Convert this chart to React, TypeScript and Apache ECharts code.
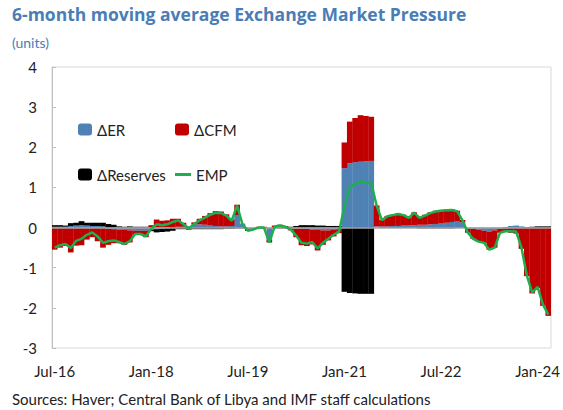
import React, { useEffect, useRef } from "react";
import * as echarts from "echarts";

const monthNames = ["Jan", "Feb", "Mar", "Apr", "May", "Jun", "Jul", "Aug", "Sep", "Oct", "Nov", "Dec"];
const startYear = 2016;
const startMonth = 6; // Jul
const monthCount = 93; // Jul-16 .. Mar-24
const categories: string[] = [];
for (let k = 0; k < monthCount; k++) {
  const m = (startMonth + k) % 12;
  const y = startYear + Math.floor((startMonth + k) / 12);
  categories.push(`${monthNames[m]}-${String(y).slice(2)}`);
}

const erValues = [
  0.02, 0.02, 0.02, 0.04, 0.05, 0.06, 0.05, 0.04, 0.04, 0.03, -0.03, -0.04, -0.05, -0.06, -0.07, -0.08, -0.08,
  -0.08, -0.06, -0.04, -0.03, -0.02, 0.0, 0.02, 0.02, 0.03, 0.08, 0.08, 0.07, 0.05, 0.04, 0.03, 0.03, 0.04, 0.3, 0.1,
  -0.03, -0.02, 0.0, 0.0, -0.3, 0.0, 0.02, 0.0, -0.02, -0.02, -0.02, -0.03, -0.05, -0.06, -0.07, -0.07, -0.06, -0.04,
  1.48, 1.6, 1.63, 1.64, 1.65, 1.66,
  0.03, 0.03, 0.03, 0.04, 0.04, 0.05, 0.05, 0.06, 0.07, 0.07, 0.08, 0.09, 0.1, 0.12, 0.14, 0.15, 0.13,
  -0.02, -0.03, -0.05, -0.08, -0.1, -0.07, -0.03, -0.02, 0.04, 0.05, 0.03, 0.0, 0.0, 0.0, 0.0, 0.0,
];

const cfmValues = [
  -0.55, -0.5, -0.46, -0.62, -0.45, -0.44, -0.3, -0.24, -0.34, -0.5, -0.4, -0.35, -0.34, -0.37, -0.3, -0.1, -0.1,
  -0.16, 0.06, 0.2, 0.17, 0.18, 0.22, 0.2, 0.1, -0.03, 0.05, 0.14, 0.22, 0.31, 0.37, 0.37, 0.3, 0.16, 0.27, 0.0,
  -0.03, -0.01, 0.02, 0.02, -0.06, 0.05, 0.05, 0.04, -0.05, -0.22, -0.42, -0.43, -0.37, -0.51, -0.36, -0.25, -0.16, -0.1,
  0.64, 1.04, 1.1, 1.16, 1.13, 1.1,
  0.52, 0.16, 0.26, 0.28, 0.31, 0.27, 0.2, 0.32, 0.19, 0.25, 0.3, 0.33, 0.34, 0.33, 0.32, 0.27, 0.06,
  -0.1, -0.24, -0.29, -0.3, -0.45, -0.43, -0.1, -0.08, -0.13, -0.15, -0.53, -1.21, -1.64, -1.51, -1.95, -2.2,
];

const reservesValues = [
  0.04, 0.04, 0.03, 0.07, 0.07, 0.1, 0.07, 0.08, 0.08, 0.09, 0.09, 0.07, 0.03, 0.02, 0.03, 0.02, 0.02,
  0.02, -0.03, -0.08, -0.08, -0.08, -0.08, -0.04, -0.04, -0.02, -0.04, -0.04, -0.04, -0.04, -0.04, -0.04, -0.03, -0.03, -0.02, -0.02,
  -0.02, -0.02, -0.02, -0.02, -0.01, -0.02, -0.02, -0.02, 0.02, 0.04, 0.06, 0.06, 0.06, 0.05, 0.05, 0.04, 0.04, 0.04,
  -1.6, -1.63, -1.64, -1.65, -1.65, -1.65,
  0, -0.01, -0.01, -0.01, -0.01, -0.01, -0.01, -0.01, -0.02, -0.02, -0.02, -0.02, -0.02, -0.02, -0.02, -0.01, -0.01,
  -0.01, -0.01, -0.01, 0, 0, 0, 0, 0.01, 0, 0, 0, 0.01, 0.02, 0.03, 0.03, 0.03,
];

const empValues = [
  -0.5, -0.44, -0.41, -0.51, -0.33, -0.28, -0.18, -0.12, -0.22, -0.38, -0.34, -0.32, -0.36, -0.41, -0.34, -0.16, -0.16,
  -0.22, -0.03, 0.08, 0.06, 0.08, 0.14, 0.18, 0.08, -0.02, 0.09, 0.18, 0.25, 0.32, 0.37, 0.36, 0.3, 0.17, 0.55, 0.08,
  -0.08, -0.05, 0.0, 0.0, -0.37, 0.03, 0.05, 0.02, -0.05, -0.2, -0.38, -0.4, -0.36, -0.52, -0.38, -0.28, -0.18, -0.1,
  0.52, 1.01, 1.09, 1.15, 1.13, 1.11,
  0.55, 0.18, 0.28, 0.31, 0.34, 0.31, 0.24, 0.37, 0.24, 0.3, 0.36, 0.4, 0.42, 0.43, 0.44, 0.41, 0.18,
  -0.13, -0.28, -0.35, -0.38, -0.55, -0.5, -0.13, -0.09, -0.09, -0.1, -0.5, -1.2, -1.62, -1.48, -1.92, -2.17,
];

const yTicks = { min: -3, max: 4, interval: 1 };
const labelEvery = 18;

const TEXT = "#222222";
const FONT = "Lato, 'Noto Sans', sans-serif";
const TITLE_FONT = "'Open Sans', 'Noto Sans', sans-serif";
const BLUE = "#4f81b4";
const RED = "#c00000";
const BLACK = "#000000";
const GREEN = "#1fae4e";

export default function App() {
  const ref = useRef<HTMLDivElement>(null);
  useEffect(() => {
    document.body.style.margin = "0";
    if (!ref.current) return;
    const chart = echarts.init(ref.current, null, { renderer: "svg" });
    const legendText = { color: TEXT, fontSize: 15, fontFamily: FONT };
    const barBase = { type: "bar", stack: "emp", barWidth: "106%" };
    chart.setOption({
      animation: false,
      backgroundColor: "#ffffff",
      textStyle: { fontFamily: FONT },
      grid: {
        left: 52,
        right: 12,
        top: 67,
        bottom: 62,
        show: true,
        borderColor: "#d9d9d9",
        borderWidth: 1,
        containLabel: false,
      },
      graphic: [
        {
          type: "text",
          left: 12,
          top: 5,
          style: {
            text: "6-month moving average Exchange Market Pressure",
            font: `bold 17.5px ${TITLE_FONT}`,
            fill: "#4a7db5",
          },
        },
        {
          type: "text",
          left: 12,
          top: 35,
          style: { text: "(units)", font: `14px ${FONT}`, fill: "#4a7db5" },
        },
        {
          type: "text",
          left: 12,
          top: 391,
          style: {
            text: "Sources: Haver; Central Bank of Libya and IMF staff calculations",
            font: `15px ${FONT}`,
            fill: TEXT,
          },
        },
      ],
      legend: [
        { data: ["ΔER"], left: 73, top: 117, itemWidth: 14, itemHeight: 12, textStyle: legendText, selectedMode: false },
        { data: ["ΔCFM"], left: 170, top: 117, itemWidth: 14, itemHeight: 12, textStyle: legendText, selectedMode: false },
        { data: ["ΔReserves"], left: 73, top: 162, itemWidth: 14, itemHeight: 12, textStyle: legendText, selectedMode: false },
        {
          data: [{ name: "EMP", icon: "rect" }],
          left: 170,
          top: 162,
          itemWidth: 16,
          itemHeight: 3,
          textStyle: legendText,
          selectedMode: false,
        },
      ],
      xAxis: {
        type: "category",
        data: categories,
        boundaryGap: true,
        axisLine: { show: false },
        axisTick: { show: false },
        axisLabel: {
          interval: (idx: number) => idx % labelEvery === 0,
          color: TEXT,
          fontSize: 15,
          fontFamily: FONT,
          margin: 15,
        },
        splitLine: { show: false },
      },
      yAxis: {
        type: "value",
        min: yTicks.min,
        max: yTicks.max,
        interval: yTicks.interval,
        axisLine: { show: true, lineStyle: { color: "#bfbfbf" } },
        axisTick: { show: true, inside: true, length: 4, lineStyle: { color: "#bfbfbf" } },
        axisLabel: { color: TEXT, fontSize: 15, fontFamily: FONT, margin: 15 },
        splitLine: { show: false },
      },
      series: [
        {
          ...barBase,
          name: "ΔER",
          data: erValues,
          itemStyle: { color: BLUE },
          markLine: {
            silent: true,
            symbol: "none",
            label: { show: false },
            lineStyle: { color: "#a6a6a6", width: 1.5, type: "solid" },
            data: [{ yAxis: 0 }],
          },
        },
        {
          ...barBase,
          name: "ΔCFM",
          data: cfmValues,
          itemStyle: { color: RED },
        },
        {
          ...barBase,
          name: "ΔReserves",
          data: reservesValues,
          itemStyle: { color: BLACK },
        },
        {
          name: "EMP",
          type: "line",
          data: empValues,
          symbol: "none",
          z: 5,
          lineStyle: { color: GREEN, width: 2.5 },
          itemStyle: { color: GREEN },
        },
      ],
    });
    return () => chart.dispose();
  }, []);
  return <div ref={ref} style={{ width: 563, height: 410 }} />;
}
